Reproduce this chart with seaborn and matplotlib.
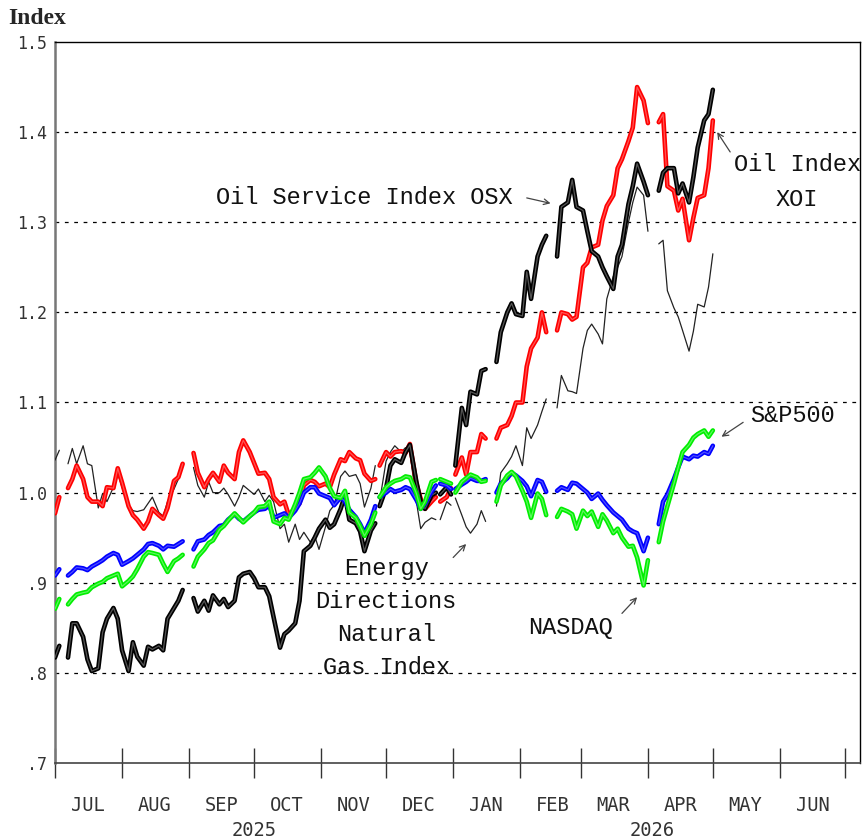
import numpy as np
import pandas as pd
import matplotlib
matplotlib.use("Agg")
import matplotlib.pyplot as plt
import matplotlib.dates as mdates
import matplotlib.transforms as mtrans
import seaborn as sns

nan = np.nan

# sample dates (trading days, holidays kept as gaps)
dates = (
    ["2025-07-%02d" % d for d in [1, 3, 4, 7, 9, 11, 14, 16, 18, 21, 23, 25, 28, 30]]
    + ["2025-08-%02d" % d for d in [1, 4, 6, 8, 11, 13, 15, 18, 20, 22, 25, 27, 29]]
    + ["2025-09-%02d" % d for d in [1, 3, 5, 8, 10, 12, 15, 17, 19, 22, 24, 26, 29]]
    + ["2025-10-%02d" % d for d in [1, 3, 6, 8, 10, 13, 15, 17, 20, 22, 24, 27, 29, 31]]
    + ["2025-11-%02d" % d for d in [3, 5, 7, 10, 12, 14, 17, 19, 21, 24, 26, 27, 28]]
    + ["2025-12-%02d" % d for d in [1, 3, 5, 8, 10, 12, 15, 17, 19, 22, 24, 25, 26, 29, 31]]
    + ["2026-01-%02d" % d for d in [1, 2, 5, 7, 9, 12, 14, 16, 19, 21, 23, 26, 28, 30]]
    + ["2026-02-%02d" % d for d in [2, 4, 6, 9, 11, 13, 16, 18, 20, 23, 25, 27]]
    + ["2026-03-%02d" % d for d in [2, 4, 6, 9, 11, 13, 16, 18, 20, 23, 25, 27, 30]]
    + ["2026-04-%02d" % d for d in [1, 3, 6, 8, 10, 13, 15, 17, 20, 22, 24, 27, 29]]
    + ["2026-05-01"]
)

# Oil Index XOI (red)
xoi = [
    0.977, 0.995, nan, 1.005, 1.015, 1.030, 1.015, 0.995, 0.990, 0.990, 0.985, 1.006, 1.005, 1.027,
    1.011, 0.985, 0.975, 0.970, 0.960, 0.968, 0.982, 0.975, 0.971, 0.983, 1.013, 1.017, 1.032,
    nan, 1.044, 1.022, 1.006, 1.015, 1.022, 1.012, 1.030, 1.022, 1.015, 1.045, 1.058, 1.045,
    1.033, 1.021, 1.022, 1.015, 0.995, 0.987, 0.990, 0.975, 0.983, 0.988, 1.008, 1.014, 1.012, 1.007,
    1.010, 1.006, 1.020, 1.037, 1.035, 1.045, 1.038, 1.036, 1.021, 1.013, 1.015, nan, 1.030,
    1.045, 1.040, 1.045, 1.046, 1.044, 1.054, 1.010, 0.993, 0.982, 0.990, 0.995, nan, 0.990, 0.995, 1.005,
    nan, 1.020, 1.039, 1.020, 1.045, 1.045, 1.065, 1.060, nan, 1.060, 1.072, 1.075, 1.085, 1.100,
    1.100, 1.140, 1.160, 1.172, 1.200, 1.178, nan, 1.180, 1.200, 1.198, 1.192, 1.195,
    1.250, 1.255, 1.272, 1.275, 1.302, 1.318, 1.330, 1.360, 1.370, 1.390, 1.405, 1.450, 1.435,
    1.410, nan, 1.411, 1.420, 1.340, 1.335, 1.313, 1.326, 1.280, 1.305, 1.327, 1.330, 1.360,
    1.413,
]

# Oil Service Index OSX (thick black)
osx = [
    0.817, 0.830, nan, 0.817, 0.855, 0.855, 0.840, 0.815, 0.802, 0.805, 0.845, 0.860, 0.872, 0.860,
    0.825, 0.802, 0.834, 0.818, 0.808, 0.829, 0.826, 0.830, 0.825, 0.860, 0.872, 0.880, 0.892,
    nan, 0.883, 0.868, 0.880, 0.869, 0.886, 0.876, 0.882, 0.873, 0.880, 0.906, 0.910, 0.912,
    0.905, 0.895, 0.895, 0.885, 0.862, 0.828, 0.843, 0.847, 0.855, 0.880, 0.935, 0.941, 0.950, 0.960,
    0.970, 0.961, 0.965, 0.982, 0.997, 0.970, 0.966, 0.957, 0.935, 0.958, 0.966, nan, 0.985,
    1.005, 1.030, 1.037, 1.033, 1.045, 1.053, 1.012, 0.990, 0.982, 0.997, 1.000, nan, 0.998, 1.006, 0.998,
    nan, 1.030, 1.094, 1.075, 1.112, 1.109, 1.135, 1.137, nan, 1.145, 1.178, 1.200, 1.210, 1.198,
    1.196, 1.245, 1.215, 1.262, 1.275, 1.285, nan, 1.262, 1.317, 1.322, 1.347, 1.317,
    1.313, 1.290, 1.268, 1.262, 1.250, 1.240, 1.226, 1.262, 1.275, 1.320, 1.340, 1.365, 1.345,
    1.330, nan, 1.335, 1.355, 1.360, 1.360, 1.332, 1.343, 1.322, 1.350, 1.383, 1.413, 1.420,
    1.447,
]

# Energy Directions Natural Gas Index (thin black)
natgas = [
    1.036, 1.047, nan, 1.032, 1.049, 1.032, 1.052, 1.032, 1.030, 0.983, 0.999, 0.990, 1.006, 1.021,
    1.006, 0.986, 0.980, 0.979, 0.981, 0.988, 0.995, 0.978, 0.974, 0.990, 1.004, 1.015, 1.030,
    nan, 1.028, 1.008, 0.995, 1.012, 1.000, 1.000, 1.005, 0.998, 0.985, 0.995, 1.008, 1.002,
    0.998, 1.004, 0.990, 0.997, 0.990, 0.960, 0.965, 0.945, 0.965, 0.948, 0.956, 0.945, 0.952, 0.937,
    0.962, 0.980, 0.986, 1.018, 1.024, 1.018, 1.020, 1.010, 0.984, 1.005, 1.030, nan, 0.990,
    1.035, 1.045, 1.052, 1.045, 1.050, 1.045, 0.990, 0.960, 0.967, 0.972, 0.970, nan, 0.970, 0.990, 0.986,
    nan, 0.994, 0.975, 0.962, 0.955, 0.965, 0.980, 0.968, nan, 0.985, 1.022, 1.032, 1.040, 1.052,
    1.030, 1.072, 1.060, 1.075, 1.090, 1.104, nan, 1.094, 1.130, 1.113, 1.112, 1.110,
    1.160, 1.180, 1.187, 1.176, 1.165, 1.215, 1.240, 1.250, 1.262, 1.300, 1.322, 1.339, 1.330,
    1.290, nan, 1.276, 1.280, 1.224, 1.205, 1.195, 1.180, 1.157, 1.179, 1.209, 1.206, 1.228,
    1.265,
]

# S&P500 (blue)
spx = [
    0.908, 0.915, nan, 0.908, 0.912, 0.917, 0.916, 0.914, 0.918, 0.922, 0.925, 0.929, 0.933, 0.931,
    0.920, 0.924, 0.927, 0.931, 0.937, 0.943, 0.944, 0.941, 0.937, 0.941, 0.940, 0.943, 0.946,
    nan, 0.937, 0.946, 0.948, 0.953, 0.956, 0.963, 0.964, 0.970, 0.976, 0.971, 0.968, 0.974,
    0.978, 0.981, 0.982, 0.986, 0.972, 0.975, 0.977, 0.972, 0.980, 0.988, 1.000, 1.006, 1.006, 0.999,
    0.996, 0.994, 0.986, 0.995, 0.990, 0.981, 0.973, 0.965, 0.955, 0.970, 0.985, nan, 0.995,
    1.000, 1.004, 1.001, 1.003, 1.006, 1.004, 0.992, 0.982, 0.988, 1.001, 1.008, nan, 1.010, 1.008, 1.004,
    nan, 1.004, 1.009, 1.012, 1.016, 1.013, 1.013, 1.015, nan, 1.000, 1.010, 1.016, 1.022, 1.019,
    1.013, 1.007, 0.996, 1.014, 1.012, 1.001, nan, 1.002, 1.006, 1.003, 1.011, 1.010,
    1.004, 1.000, 0.993, 0.999, 0.992, 0.986, 0.978, 0.974, 0.970, 0.960, 0.957, 0.955, 0.935,
    0.950, nan, 0.965, 0.990, 0.998, 1.015, 1.028, 1.040, 1.037, 1.041, 1.040, 1.045, 1.043,
    1.052,
]

# NASDAQ (green)
nasdaq = [
    0.871, 0.882, nan, 0.876, 0.882, 0.887, 0.889, 0.890, 0.895, 0.899, 0.901, 0.905, 0.908, 0.910,
    0.896, 0.902, 0.907, 0.915, 0.929, 0.934, 0.933, 0.931, 0.921, 0.912, 0.924, 0.927, 0.931,
    nan, 0.918, 0.929, 0.937, 0.944, 0.947, 0.959, 0.963, 0.969, 0.977, 0.972, 0.967, 0.974,
    0.978, 0.984, 0.985, 0.990, 0.968, 0.965, 0.972, 0.970, 0.987, 1.000, 1.015, 1.017, 1.022, 1.028,
    1.018, 1.005, 0.996, 0.994, 1.002, 0.978, 0.972, 0.963, 0.952, 0.965, 0.978, nan, 0.995,
    1.006, 1.010, 1.013, 1.015, 1.018, 1.017, 0.999, 0.982, 0.990, 1.012, 1.014, nan, 1.015, 1.012, 1.010,
    nan, 1.000, 1.012, 1.016, 1.020, 1.017, 1.012, 1.013, nan, 0.990, 1.008, 1.019, 1.023, 1.018,
    1.002, 0.990, 0.972, 0.999, 0.993, 0.975, nan, 0.973, 0.982, 0.979, 0.976, 0.960,
    0.980, 0.974, 0.979, 0.962, 0.976, 0.969, 0.955, 0.960, 0.950, 0.940, 0.941, 0.928, 0.897,
    0.925, nan, 0.945, 0.968, 0.985, 1.010, 1.028, 1.045, 1.053, 1.061, 1.065, 1.069, 1.062,
    1.069,
]

month_names = ["JUL", "AUG", "SEP", "OCT", "NOV", "DEC",
               "JAN", "FEB", "MAR", "APR", "MAY", "JUN"]
y_ticks = [0.7, 0.8, 0.9, 1.0, 1.1, 1.2, 1.3, 1.4, 1.5]
y_labels = [".7", ".8", ".9", "1.0", "1.1", "1.2", "1.3", "1.4", "1.5"]
grid_levels = [0.8, 0.9, 1.0, 1.1, 1.2, 1.3, 1.4]

df = pd.DataFrame({
    "date": pd.to_datetime(dates),
    "xoi": xoi, "osx": osx, "natgas": natgas, "spx": spx, "nasdaq": nasdaq,
})

sns.set_style("white")
plt.rcParams["font.family"] = ["DejaVu Sans"]

fig = plt.figure(figsize=(8.64, 8.40), dpi=100)
ax = fig.add_axes([55 / 864, 77 / 840, 805 / 864, 721 / 840])

for lvl in grid_levels:
    ax.axhline(lvl, color="black", lw=0.9, linestyle=(0, (3, 4.5)), zorder=1)


def draw(col, color, lw, inner=None):
    # break the line at holidays (NaN rows)
    sub = df[["date", col]].copy()
    sub["seg"] = sub[col].isna().cumsum()
    sub = sub.dropna()
    sns.lineplot(data=sub, x="date", y=col, units="seg", estimator=None,
                 color=color, lw=lw, ax=ax, legend=False, sort=False, zorder=3)
    if inner is not None:
        sns.lineplot(data=sub, x="date", y=col, units="seg", estimator=None,
                     color=inner, lw=0.9, alpha=0.55, ax=ax, legend=False,
                     sort=False, zorder=3)


draw("natgas", "#222222", 0.9)
draw("xoi", "#ff0000", 3.3, "#ff9a9a")
draw("osx", "#000000", 3.3, "#9a9a9a")
draw("spx", "#0000ff", 3.3, "#9090ff")
draw("nasdaq", "#00ee00", 3.3, "#aaffaa")

ax.set_xlim(mdates.date2num(pd.Timestamp("2025-07-01")),
            mdates.date2num(pd.Timestamp("2026-07-08")))
ax.set_ylim(0.7, 1.5)
ax.set_xlabel("")
ax.set_ylabel("")

# x axis: ticks at month starts, month names mid-month
month_starts = pd.date_range("2025-07-01", "2026-07-01", freq="MS")
month_mids = month_starts[:-1] + pd.Timedelta(days=15)
ax.set_xticks(mdates.date2num(month_starts))
ax.set_xticklabels([])
ax.set_xticks(mdates.date2num(month_mids), minor=True)
ax.set_xticklabels(month_names, minor=True, family="DejaVu Sans Mono",
                   fontsize=13.5, color="#333333")
ax.tick_params(axis="x", which="major", direction="inout", length=21,
               width=1, color="#333333", bottom=True)
ax.tick_params(axis="x", which="minor", length=0, pad=24, bottom=True)

trans = mtrans.blended_transform_factory(ax.transData, ax.transAxes)
for yr, d in [("2025", "2025-10-01"), ("2026", "2026-04-03")]:
    ax.text(mdates.date2num(pd.Timestamp(d)), -0.093, yr, transform=trans,
            ha="center", va="center", family="DejaVu Sans Mono",
            fontsize=13.5, color="#333333", clip_on=False)

ax.set_yticks(y_ticks)
ax.set_yticklabels(y_labels, family="DejaVu Sans Mono", fontsize=12,
                   color="#333333")
ax.tick_params(axis="y", length=0, pad=6, left=True)

for side in ["top", "right"]:
    ax.spines[side].set_color("black")
    ax.spines[side].set_linewidth(1.0)
ax.spines["left"].set_color("#777777")
ax.spines["left"].set_linewidth(1.8)
ax.spines["bottom"].set_color("#444444")
ax.spines["bottom"].set_linewidth(1.2)

fig.text(8 / 864, 1 - 18 / 840, "Index", family="Liberation Serif",
         fontweight="bold", fontsize=17, ha="left", va="center")


def d(s):
    return mdates.date2num(pd.Timestamp(s))


lab = dict(family="Liberation Mono", fontsize=17, color="#111111",
           ha="center", va="center")
arrow = dict(arrowstyle="->", color="#444444", lw=0.9, shrinkA=0, shrinkB=0)

ax.text(d("2025-11-21"), 1.327, "Oil Service Index OSX", **lab)
ax.annotate("", xy=(d("2026-02-15"), 1.321), xytext=(d("2026-02-04"), 1.327),
            arrowprops=arrow)

ax.text(d("2026-06-09"), 1.345, "Oil Index\nXOI", linespacing=1.65, **lab)
ax.annotate("", xy=(d("2026-05-03"), 1.400), xytext=(d("2026-05-09"), 1.378),
            arrowprops=arrow)

ax.text(d("2026-06-07"), 1.086, "S&P500", **lab)
ax.annotate("", xy=(d("2026-05-05"), 1.062), xytext=(d("2026-05-15"), 1.078),
            arrowprops=arrow)

ax.text(d("2025-12-01"), 0.861, "Energy\nDirections\nNatural\nGas Index",
        linespacing=1.56, **lab)
ax.annotate("", xy=(d("2026-01-07"), 0.943), xytext=(d("2026-01-01"), 0.928),
            arrowprops=arrow)

ax.text(d("2026-02-24"), 0.850, "NASDAQ", **lab)
ax.annotate("", xy=(d("2026-03-27"), 0.884), xytext=(d("2026-03-20"), 0.866),
            arrowprops=arrow)

fig.savefig("out.png", dpi=100)
